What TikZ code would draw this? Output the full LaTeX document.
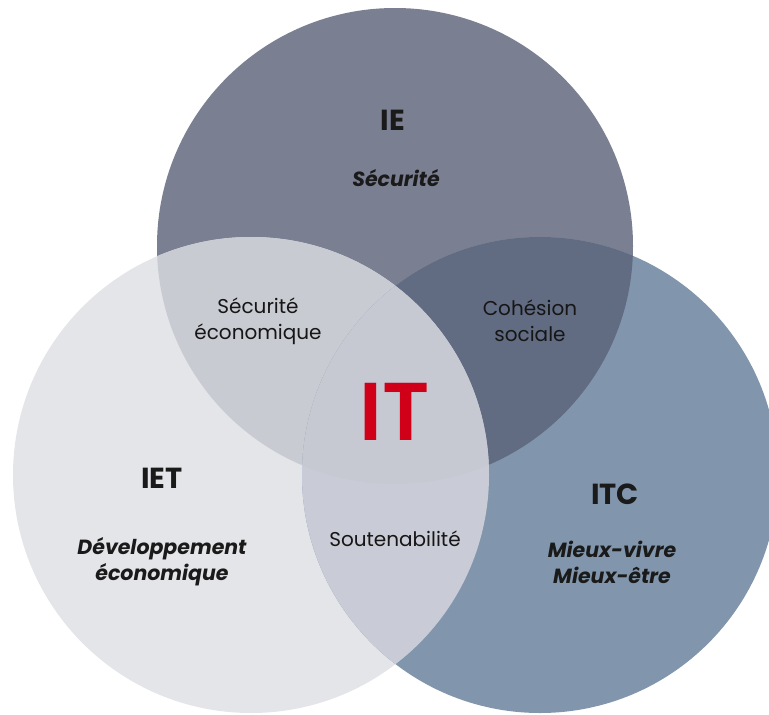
\documentclass[tikz,border=0pt]{standalone}
\usepackage{fontspec}
\setmainfont{Poppins}
\newfontfamily\semifont{Poppins SemiBold}
\definecolor{cTop}{HTML}{7A7F92}
\definecolor{cLeft}{HTML}{E4E5E9}
\definecolor{cRight}{HTML}{8196AC}
\definecolor{cTL}{HTML}{C9CBD3}
\definecolor{cTR}{HTML}{616B82}
\definecolor{cLR}{HTML}{C9CCD6}
\definecolor{cAll}{HTML}{C6C9D2}
\definecolor{cRed}{HTML}{D10019}
\definecolor{cText}{HTML}{1A1A1A}
\tikzset{
  title/.style={font=\fontsize{29}{30}\selectfont\bfseries, text=cText, inner sep=0pt},
  theme/.style={font=\fontsize{20.5}{26}\selectfont\bfseries\itshape, text=cText, align=center, inner sep=0pt},
  inter/.style={font=\fontsize{20}{26}\selectfont, text=cText!85!black, align=center, inner sep=0pt},
}
\begin{document}
\begin{tikzpicture}[x=1pt,y=-1pt]
\useasboundingbox (0,0) rectangle (769,715);
\def\R{238}
\coordinate (cT) at (395,246);
\coordinate (cL) at (251,475);
\coordinate (cR) at (540,475);
\begin{scope}
\clip (0,0) rectangle (769,715);
\fill[cTop] (cT) circle (\R);
\fill[cLeft] (cL) circle (\R);
\fill[cRight] (cR) circle (\R);
\begin{scope}\clip (cT) circle (\R); \fill[cTL] (cL) circle (\R);\end{scope}
\begin{scope}\clip (cT) circle (\R); \fill[cTR] (cR) circle (\R);\end{scope}
\begin{scope}\clip (cL) circle (\R); \fill[cLR] (cR) circle (\R);\end{scope}
\begin{scope}\clip (cT) circle (\R); \clip (cL) circle (\R); \fill[cAll] (cR) circle (\R);\end{scope}
\end{scope}
\node[title] (ie) at (393,120) {IE};
\node[theme] (secu) at (396,178) {Sécurité};
\node[inter] (sececo) at (258,321) {Sécurité\\économique};
\node[inter] (cohesion) at (530,321) {Cohésion\\sociale};
\node[font=\fontsize{82}{84}\selectfont\semifont, text=cRed, inner sep=0pt] (it) at (395,412) {IT};
\node[title] (iet) at (162,478) {IET};
\node[theme] (dev) at (162,562) {Développement\\économique};
\node[inter] (sout) at (395,539) {Soutenabilité};
\node[title] (itc) at (615,494) {ITC};
\node[theme] (mieux) at (612,562) {Mieux-vivre\\Mieux-être};
\end{tikzpicture}
\end{document}
